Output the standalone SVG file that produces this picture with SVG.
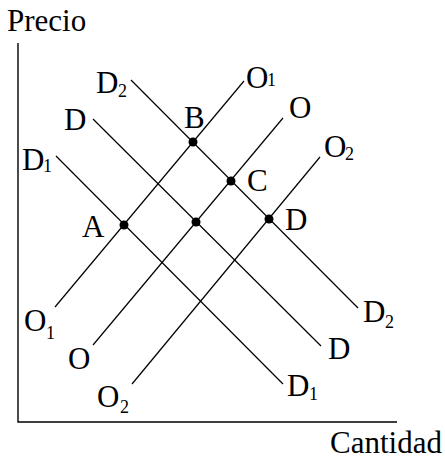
<svg xmlns="http://www.w3.org/2000/svg" width="445" height="460" viewBox="0 0 445 460">
<style>
.ln{stroke:#000;stroke-width:1.2;fill:none}
.ax{stroke:#000;stroke-width:1.4;fill:none}
text{font-family:"Liberation Serif","Times New Roman",serif;fill:#000}
.t{font-size:31px}
.s{font-size:18px}
.pt{fill:#000}
</style>
<rect width="445" height="460" fill="#fff"/>
<g id="axes">
<path class="ax" d="M18,43 V422 H397"/>
<text class="t" x="7" y="31">Precio</text>
<text class="t" x="330" y="453">Cantidad</text>
</g>
<g id="connectors">
<line class="ln" x1="131" y1="80" x2="358" y2="308"/>
<line class="ln" x1="93" y1="119" x2="321" y2="346"/>
<line class="ln" x1="56" y1="156" x2="283" y2="384"/>
<line class="ln" x1="244" y1="81" x2="55" y2="307"/>
<line class="ln" x1="283" y1="118" x2="93" y2="345"/>
<line class="ln" x1="320" y1="157" x2="132" y2="384"/>
</g>
<g id="D2">
<text class="t" x="96" y="93">D</text><text class="s" x="118" y="97">2</text>
<text class="t" x="363" y="322">D</text><text class="s" x="385" y="328">2</text>
</g>
<g id="D">
<text class="t" x="64" y="130">D</text>
<text class="t" x="328" y="359">D</text>
</g>
<g id="D1">
<text class="t" x="22" y="170">D</text><text class="s" x="43" y="172">1</text>
<text class="t" x="287" y="396">D</text><text class="s" x="309" y="400">1</text>
</g>
<g id="O1">
<text class="t" x="246" y="88">O</text><text class="s" x="267" y="86">1</text>
<text class="t" x="24" y="331">O</text><text class="s" x="46" y="339">1</text>
</g>
<g id="O">
<text class="t" x="289" y="118">O</text>
<text class="t" x="68" y="369">O</text>
</g>
<g id="O2">
<text class="t" x="324" y="157">O</text><text class="s" x="345" y="160">2</text>
<text class="t" x="97" y="407">O</text><text class="s" x="120" y="413">2</text>
</g>
<g id="pointA"><circle class="pt" cx="124" cy="225" r="4.5"/><text class="t" x="82" y="237">A</text></g>
<g id="pointB"><circle class="pt" cx="193" cy="142" r="4.5"/><text class="t" x="184" y="128">B</text></g>
<g id="pointC"><circle class="pt" cx="231" cy="181" r="4.5"/><text class="t" x="247" y="191">C</text></g>
<g id="pointD"><circle class="pt" cx="269" cy="219" r="4.5"/><text class="t" x="285" y="230">D</text></g>
<g id="pointE"><circle class="pt" cx="196" cy="222" r="4.5"/></g>
</svg>
